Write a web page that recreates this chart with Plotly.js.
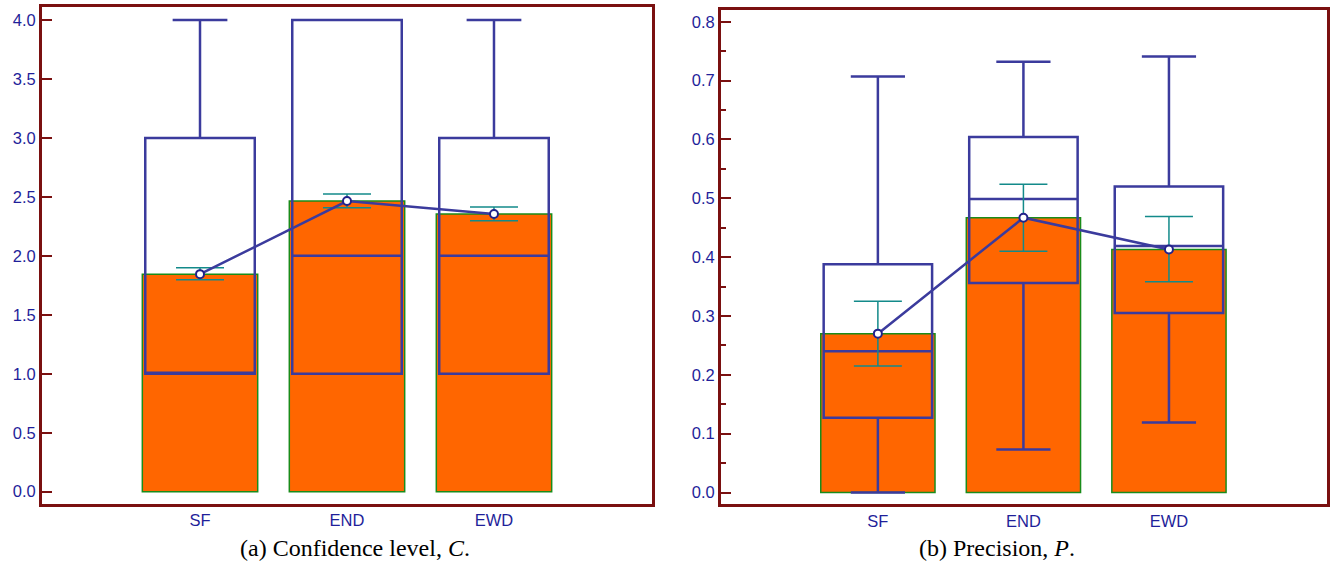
<!DOCTYPE html>
<html>
<head>
<meta charset="utf-8">
<script src="https://cdn.plot.ly/plotly-3.0.1.min.js"></script>
<style>html,body{margin:0;padding:0;background:#fff;}#chart{width:1335px;height:566px;}</style>
</head>
<body>
<div id="chart"></div>
<script>
// Categories
const categories = ["SF", "END", "EWD"];

// Panel (a): Confidence level C
const meanC = [1.845, 2.465, 2.355];
const errLowC = [1.797, 2.408, 2.297];
const errHighC = [1.900, 2.525, 2.415];
const lowerC = [1.0, 1.0, 1.0];
const q1C = [1.0, 1.0, 1.0];
const medianC = [1.0, 2.0, 2.0];
const q3C = [3.0, 4.0, 3.0];
const upperC = [4.0, 4.0, 4.0];
const ticksC = [0, 0.5, 1, 1.5, 2, 2.5, 3, 3.5, 4];

// Panel (b): Precision P
const meanP = [0.270, 0.467, 0.413];
const errLowP = [0.215, 0.410, 0.358];
const errHighP = [0.325, 0.524, 0.469];
const lowerP = [0.0, 0.073, 0.119];
const q1P = [0.127, 0.356, 0.305];
const medianP = [0.240, 0.499, 0.419];
const q3P = [0.388, 0.604, 0.520];
const upperP = [0.707, 0.732, 0.741];
const ticksP = [0, 0.1, 0.2, 0.3, 0.4, 0.5, 0.6, 0.7, 0.8];

const captionA = "(a) Confidence level, <i>C</i>.";
const captionB = "(b) Precision, <i>P</i>.";

const NAVY = "#3b3b9d";
const ORANGE = "#ff6600";
const GREEN = "#1a8c1a";
const TEAL = "#138a8a";
const FRAME = "#7a1010";
const TICKTXT = "#1f1f9a";

function panel(xa, ya, mean, lo, hi, lower, q1, med, q3, upper) {
  return [
    {type: "bar", x: categories, y: mean, xaxis: xa, yaxis: ya, width: 0.785,
     marker: {color: ORANGE, line: {color: GREEN, width: 1.5}}, showlegend: false, hoverinfo: "skip"},
    {type: "box", x: categories, q1: q1, median: med, q3: q3, lowerfence: lower, upperfence: upper,
     xaxis: xa, yaxis: ya, width: 0.745, whiskerwidth: 0.5, boxpoints: false,
     fillcolor: "rgba(0,0,0,0)", line: {color: NAVY, width: 2.5}, showlegend: false, hoverinfo: "skip"},
    {type: "scatter", mode: "lines+markers", x: categories, y: mean, xaxis: xa, yaxis: ya,
     line: {color: NAVY, width: 2.5},
     marker: {symbol: "circle", size: 8, color: "#ffffff", line: {color: "#22228a", width: 2}},
     error_y: {type: "data", symmetric: false,
       array: mean.map((m, i) => hi[i] - m), arrayminus: mean.map((m, i) => m - lo[i]),
       color: TEAL, thickness: 1.5, width: 24},
     showlegend: false, hoverinfo: "skip"}
  ];
}

const data = [].concat(
  panel("x", "y", meanC, errLowC, errHighC, lowerC, q1C, medianC, q3C, upperC),
  panel("x2", "y2", meanP, errLowP, errHighP, lowerP, q1P, medianP, q3P, upperP)
);

const W = 1335, H = 566;
const TICKFONT = {family: "Liberation Sans, Arial, sans-serif", size: 16.5, color: TICKTXT};
function xaxisDef(d0, d1, range) {
  return {domain: [d0 / W, d1 / W], range: range, type: "category",
    showline: true, linecolor: FRAME, linewidth: 3, mirror: true,
    ticks: "", showgrid: false, zeroline: false, tickfont: TICKFONT};
}
function yaxisDef(top, bottom, range, tickvals, minor, anchor) {
  const ax = {domain: [1 - bottom / H, 1 - top / H], range: range, anchor: anchor,
    tickmode: "array", tickvals: tickvals, ticktext: tickvals.map(v => v.toFixed(1)),
    ticks: "inside", ticklen: 10, tickwidth: 2, tickcolor: FRAME,
    showline: true, linecolor: FRAME, linewidth: 3, mirror: true,
    showgrid: false, zeroline: false, tickfont: TICKFONT};
  if (minor) ax.minor = {ticks: "inside", ticklen: 5, tickwidth: 2, tickcolor: FRAME, dtick: minor, showgrid: false};
  return ax;
}

const CAPFONT = {family: "Liberation Serif, Times New Roman, serif", size: 24, color: "#000"};
const layout = {
  width: W, height: H,
  margin: {l: 0, r: 0, t: 0, b: 0},
  paper_bgcolor: "#ffffff", plot_bgcolor: "#ffffff",
  showlegend: false,
  barmode: "overlay", boxmode: "overlay",
  xaxis: Object.assign(xaxisDef(42, 652, [-1.075, 3.075]), {anchor: "y"}),
  yaxis: yaxisDef(7.3, 503.5, [-0.1, 4.108], ticksC, null, "x"),
  xaxis2: Object.assign(xaxisDef(721, 1327, [-1.078, 3.086]), {anchor: "y2"}),
  yaxis2: yaxisDef(10, 504, [-0.0195, 0.82], ticksP, 0.05, "x2"),
  annotations: [
    {text: captionA, xref: "paper", yref: "paper", x: 355 / W, y: 1 - 548 / H, showarrow: false,
     xanchor: "center", yanchor: "middle", font: CAPFONT},
    {text: captionB, xref: "paper", yref: "paper", x: 997 / W, y: 1 - 548 / H, showarrow: false,
     xanchor: "center", yanchor: "middle", font: CAPFONT}
  ]
};

Plotly.newPlot("chart", data, layout, {displayModeBar: false, staticPlot: true});
</script>
</body>
</html>
